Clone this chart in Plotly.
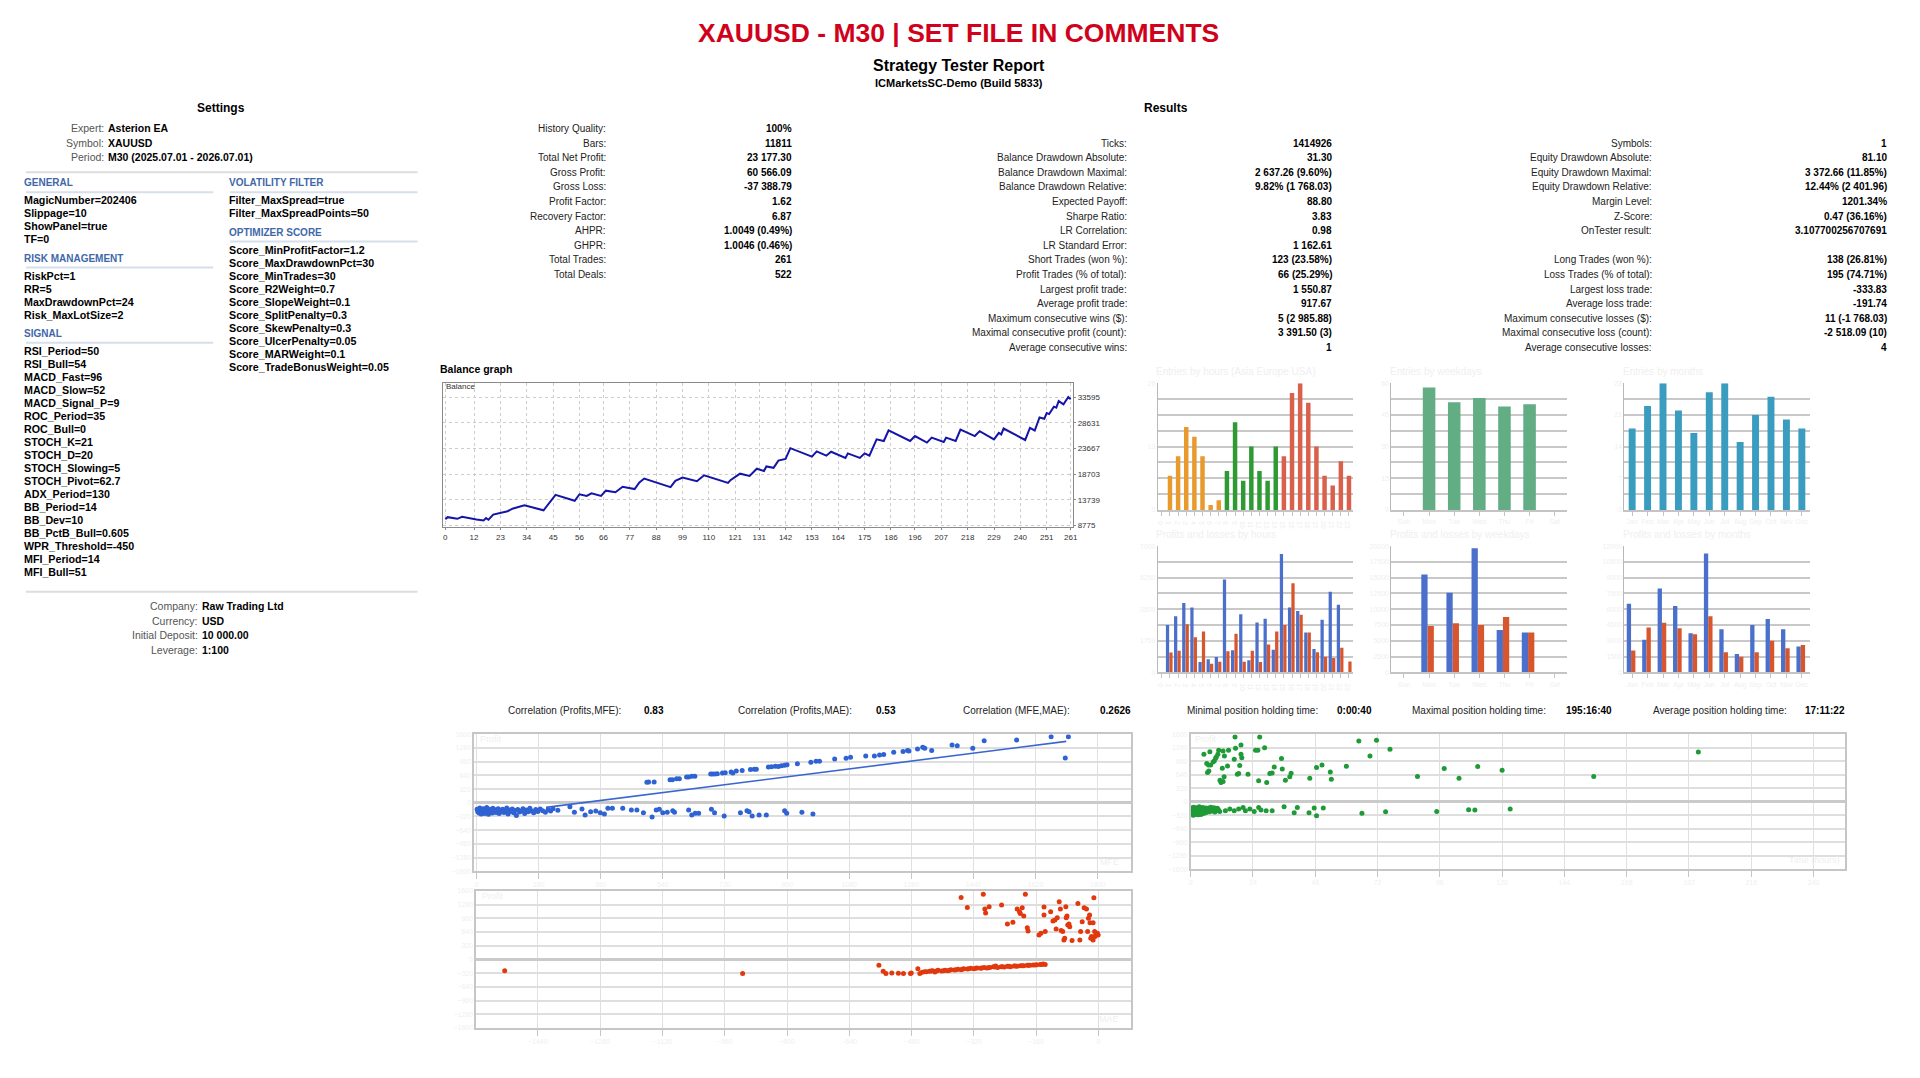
import plotly.graph_objects as go

# ============================ DATA ============================
TITLE = "XAUUSD - M30 | SET FILE IN COMMENTS"
SUBTITLE = "Strategy Tester Report"
SERVER = "ICMarketsSC-Demo (Build 5833)"

info_labels = ["Expert:", "Symbol:", "Period:"]
info_values = ["Asterion EA", "XAUUSD", "M30 (2025.07.01 - 2026.07.01)"]

general_params = ["MagicNumber=202406", "Slippage=10", "ShowPanel=true", "TF=0"]
risk_params = ["RiskPct=1", "RR=5", "MaxDrawdownPct=24", "Risk_MaxLotSize=2"]
signal_params = ["RSI_Period=50", "RSI_Bull=54", "MACD_Fast=96", "MACD_Slow=52", "MACD_Signal_P=9",
                 "ROC_Period=35", "ROC_Bull=0", "STOCH_K=21", "STOCH_D=20", "STOCH_Slowing=5",
                 "STOCH_Pivot=62.7", "ADX_Period=130", "BB_Period=14", "BB_Dev=10", "BB_PctB_Bull=0.605",
                 "WPR_Threshold=-450", "MFI_Period=14", "MFI_Bull=51"]
volatility_params = ["Filter_MaxSpread=true", "Filter_MaxSpreadPoints=50"]
optimizer_params = ["Score_MinProfitFactor=1.2", "Score_MaxDrawdownPct=30", "Score_MinTrades=30",
                    "Score_R2Weight=0.7", "Score_SlopeWeight=0.1", "Score_SplitPenalty=0.3",
                    "Score_SkewPenalty=0.3", "Score_UlcerPenalty=0.05", "Score_MARWeight=0.1",
                    "Score_TradeBonusWeight=0.05"]

account_labels = ["Company:", "Currency:", "Initial Deposit:", "Leverage:"]
account_values = ["Raw Trading Ltd", "USD", "10 000.00", "1:100"]

res1_labels = ["History Quality:", "Bars:", "Total Net Profit:", "Gross Profit:", "Gross Loss:", "Profit Factor:",
               "Recovery Factor:", "AHPR:", "GHPR:", "Total Trades:", "Total Deals:"]
res1_values = ["100%", "11811", "23 177.30", "60 566.09", "-37 388.79", "1.62", "6.87", "1.0049 (0.49%)",
               "1.0046 (0.46%)", "261", "522"]
res2_labels = ["Ticks:", "Balance Drawdown Absolute:", "Balance Drawdown Maximal:", "Balance Drawdown Relative:",
               "Expected Payoff:", "Sharpe Ratio:", "LR Correlation:", "LR Standard Error:", "Short Trades (won %):",
               "Profit Trades (% of total):", "Largest profit trade:", "Average profit trade:",
               "Maximum consecutive wins ($):", "Maximal consecutive profit (count):", "Average consecutive wins:"]
res2_values = ["1414926", "31.30", "2 637.26 (9.60%)", "9.82% (1 768.03)", "88.80", "3.83", "0.98", "1 162.61",
               "123 (23.58%)", "66 (25.29%)", "1 550.87", "917.67", "5 (2 985.88)", "3 391.50 (3)", "1"]
res3_labels = ["Symbols:", "Equity Drawdown Absolute:", "Equity Drawdown Maximal:", "Equity Drawdown Relative:",
               "Margin Level:", "Z-Score:", "OnTester result:", "", "Long Trades (won %):",
               "Loss Trades (% of total):", "Largest loss trade:", "Average loss trade:",
               "Maximum consecutive losses ($):", "Maximal consecutive loss (count):", "Average consecutive losses:"]
res3_values = ["1", "81.10", "3 372.66 (11.85%)", "12.44% (2 401.96)", "1201.34%", "0.47 (36.16%)",
               "3.107700256707691", "", "138 (26.81%)", "195 (74.71%)", "-333.83", "-191.74", "11 (-1 768.03)",
               "-2 518.09 (10)", "4"]

corr_labels = ["Correlation (Profits,MFE):", "Correlation (Profits,MAE):", "Correlation (MFE,MAE):"]
corr_values = ["0.83", "0.53", "0.2626"]
hold_labels = ["Minimal position holding time:", "Maximal position holding time:", "Average position holding time:"]
hold_values = ["0:00:40", "195:16:40", "17:11:22"]

# Balance curve (trade number, balance) read at the turning points
bal_trade = [0, 1, 5, 7, 13, 16, 17, 18, 20, 23, 26, 28, 32, 33, 41, 46, 54, 56, 59, 61, 65, 67, 71, 74, 79, 81,
             83, 94, 96, 99, 105, 108, 118, 119, 123, 127, 130, 133, 134, 137, 139, 142, 144, 153, 155, 159, 161,
             167, 168, 173, 175, 177, 180, 183, 185, 194, 196, 201, 203, 208, 209, 213, 215, 221, 223, 229, 231,
             232, 233, 242, 244, 246, 248, 250, 251, 252, 254, 255, 256, 258, 260, 261]
bal_value = [10000, 10380, 10060, 10440, 9940, 9750, 10190, 9870, 10880, 11200, 11520, 12020, 12460, 12650,
             11710, 14680, 13540, 14800, 14490, 14990, 14490, 15500, 15180, 16260, 15810, 17080, 17840, 16190,
             17390, 18030, 17330, 18470, 17010, 17520, 18780, 18340, 19730, 19290, 20170, 19920, 21310, 21630,
             23710, 22070, 23080, 22260, 23020, 21820, 22700, 21820, 22700, 22260, 25420, 25100, 27130, 25100,
             26050, 24790, 25740, 24910, 25740, 25100, 27320, 26050, 27000, 25420, 26680, 26370, 27510, 25290,
             27630, 27130, 29650, 29400, 30480, 30290, 31740, 31550, 32810, 32180, 33595, 33177]
bal_xticks = [0, 12, 23, 34, 45, 56, 66, 77, 88, 99, 110, 121, 131, 142, 153, 164, 175, 186, 196, 207, 218, 229,
              240, 251, 261]
bal_yticks = [8775, 13739, 18703, 23667, 28631, 33595]

# Entries / profits-losses distributions
hours = list(range(24))
hour_session = ["Asia"] * 8 + ["Europe"] * 7 + ["USA"] * 9
entries_by_hour = [0, 7, 11, 17, 15, 11, 1, 2, 8, 18, 6, 13, 8, 6, 13, 11, 24, 26, 22, 13, 7, 5, 10, 7]
weekdays = ["Sun", "Mon", "Tue", "Wed", "Thu", "Fri", "Sat"]
entries_by_weekday = [0, 58, 51, 53, 49, 50, 0]
months = ["Jan", "Feb", "Mar", "Apr", "May", "Jun", "Jul", "Aug", "Sep", "Oct", "Nov", "Dec"]
entries_by_month = [18, 23, 28, 22, 17, 26, 28, 15, 21, 25, 20, 18]

profits_by_hour = [0, 2625, 3110, 3840, 3590, 570, 720, 850, 5150, 1220, 3220, 665, 2770, 2975, 1250, 6560, 3600,
                   3400, 2205, 1290, 2920, 4470, 3750, 0]
losses_by_hour = [0, 1100, 1200, 2670, 1950, 2260, 480, 590, 1170, 2140, 590, 1200, 570, 1540, 2260, 2625, 4940,
                  3200, 2205, 1120, 870, 790, 1360, 600]
profits_by_weekday = [0, 15500, 12600, 19650, 6725, 6300, 0]
losses_by_weekday = [0, 7350, 7775, 7500, 8775, 6300, 0]
profits_by_month = [6525, 3090, 7980, 6300, 3720, 11310, 4095, 1740, 4500, 5070, 4095, 2460]
losses_by_month = [2085, 4260, 4725, 4185, 3630, 5325, 1920, 1485, 1920, 3000, 2295, 2610]

# Scatter: profit vs MFE
s1_win_mfe = [494, 499, 515, 561, 568, 580, 588, 609, 615, 624, 633, 679, 684, 691, 698, 713, 721, 738, 743, 753,
              770, 794, 805, 811, 846, 855, 866, 875, 884, 893, 900, 930, 969, 984, 994, 1038, 1071, 1084, 1128,
              1153, 1168, 1180, 1209, 1236, 1249, 1253, 1278, 1293, 1299, 1319, 1378, 1393, 1438, 1471, 1565,
              1665, 1715, 1706]
s1_win_profit = [477, 485, 485, 539, 539, 562, 562, 601, 601, 616, 616, 670, 670, 670, 678, 693, 701, 716, 693,
                 739, 755, 778, 785, 785, 832, 839, 855, 847, 862, 878, 886, 909, 947, 970, 970, 1024, 1040, 1063,
                 1093, 1093, 1117, 1124, 1178, 1194, 1217, 1209, 1255, 1294, 1271, 1217, 1348, 1332, 1271, 1448,
                 1463, 1540, 1540, 1047]
s1_loss_mfe = [2, 4, 6, 8, 10, 12, 14, 16, 18, 20, 22, 24, 26, 28, 30, 32, 35, 38, 40, 43, 46, 48, 51, 54, 57, 60,
               63, 66, 70, 73, 76, 80, 84, 88, 92, 96, 100, 104, 108, 112, 116, 120, 125, 130, 135, 140, 145, 150,
               155, 160, 166, 172, 178, 185, 192, 200, 208, 215, 222, 236,
               271, 284, 306, 315, 331, 346, 359, 371, 381, 394, 424, 449, 465, 484, 509, 521, 530, 540, 553, 569,
               574, 615, 624, 634, 644, 681, 690, 718, 765, 784, 790, 799, 819, 840, 893, 899, 943, 975]
s1_loss_profit = [-150, -210, -180, -240, -120, -200, -260, -170, -220, -140, -190, -250, -160, -230, -110, -200,
                  -270, -150, -215, -180, -240, -130, -200, -165, -225, -185, -140, -250, -175, -210, -150, -230,
                  -190, -120, -260, -170, -205, -145, -235, -180, -300, -160, -215, -190, -140, -250, -170, -210,
                  -130, -190, -235, -160, -205, -145, -185, -220, -160, -195, -140, -175,
                  -92, -223, -146, -285, -208, -193, -231, -262, -131, -131, -131, -169, -169, -231, -330, -169,
                  -154, -231, -223, -185, -223, -169, -285, -246, -246, -154, -231, -308, -231, -185, -208, -308,
                  -285, -285, -185, -246, -223, -262]
trend_mfe = [202, 1709]
trend_profit = [-108, 1432]

# Scatter: profit vs holding time (hours)
s2_win_time = [5.1, 7.4, 6.2, 6.9, 7.7, 6.5, 7.0, 9.1, 9.6, 9.9, 8.7, 10.8, 10.5, 12.5, 13.0, 14.6, 14.2, 12.2,
               11.3, 11.7, 12.5, 12.9, 16.8, 17.1, 17.3, 18.0, 18.5, 19.4, 19.4, 19.7, 18.9, 22.1, 25.0, 25.9,
               26.2, 26.6, 28.5, 29.3, 30.5, 31.4, 32.2, 35.0, 35.3, 36.5, 38.2, 38.7, 45.9, 48.5, 50.6, 53.8,
               54.2, 60.0, 64.8, 69.1, 71.6, 76.8, 87.4, 97.7, 103.4, 110.6, 120.0, 155.3, 195.6]
s2_win_profit = [1124, 1187, 904, 872, 872, 692, 731, 967, 1030, 1061, 943, 1218, 1124, 1203, 1085, 1218, 849,
                 794, 511, 456, 479, 590, 1006, 1533, 1265, 652, 668, 1344, 1124, 1045, 857, 652, 1218, 1218, 495,
                 1533, 1281, 456, 668, 684, 825, 1022, 778, 511, 590, 676, 558, 810, 872, 707, 534, 841, 1438,
                 1085, 1454, 1242, 597, 786, 558, 833, 747, 597, 1179]
s2_loss_time = [0.3, 0.5, 0.7, 0.9, 1.1, 1.3, 1.5, 1.7, 1.9, 2.1, 2.3, 2.5, 2.7, 2.9, 3.1, 3.3, 3.5, 3.7, 3.9, 4.1,
                4.3, 4.5, 4.7, 4.9, 5.1, 5.3, 5.5, 5.8, 6.0, 6.3, 6.6, 6.9, 7.2, 7.5, 7.8, 8.1, 8.4, 8.7, 9.0, 9.3,
                9.6, 9.9, 10.3, 10.7, 11.2, 2.0, 3.0, 1.0, 4.0, 5.0,
                13.4, 15.1, 16.8, 18.5, 20.2, 21.1, 22.8, 24.5, 26.2, 27.1, 29.1, 31.4, 36.0, 39.9, 41.1, 45.6,
                47.6, 48.5, 51.1, 66.0, 75.1, 94.8, 107.1, 109.5, 123.1]
s2_loss_profit = [-150, -220, -180, -260, -130, -200, -240, -170, -290, -140, -210, -185, -250, -160, -225, -120,
                  -195, -270, -150, -215, -175, -240, -135, -205, -165, -230, -190, -145, -255, -175, -210, -150,
                  -235, -185, -130, -220, -165, -200, -140, -245, -175, -210, -155, -190, -230, -300, -310, -320,
                  -300, -280,
                  -212, -173, -212, -173, -134, -212, -173, -228, -134, -197, -212, -212, -118, -259, -134, -259,
                  -149, -330, -149, -275, -236, -228, -189, -197, -173]

# Scatter: profit vs MAE
s3_win_mae = [-353, -337, -296, -292, -290, -281, -249, -234, -220, -209, -203, -201, -196, -192, -188, -183, -181,
              -153, -148, -140, -140, -137, -123, -117, -112, -109, -106, -101, -98, -96, -92, -89, -87, -84, -83,
              -81, -79, -76, -74, -68, -53, -48, -46, -42, -37, -31, -28, -26, -23, -22, -20, -18, -14, -14, -12,
              -10, -9, -7, -3, -1]
s3_win_profit = [1446, 1214, 1523, 1175, 1082, 1229, 1268, 827, 866, 1175, 1113, 1074, 1206, 1013, 1523, 742, 665,
                 572, 611, 1036, 1221, 649, 1113, 897, 920, 711, 974, 1345, 1175, 673, 649, 456, 495, 1229, 974,
                 1013, 804, 827, 765, 441, 1306, 456, 649, 881, 1206, 1175, 649, 959, 1036, 858, 495, 533, 456,
                 858, 1438, 649, 533, 572, 611, 572]
s3_loss_mae = [-1525, -914, -564, -553, -546, -531, -514, -501, -483, -481, -464, -459, -453, -442, -434, -426,
               -420, -412, -403, -394, -387, -379, -370, -361, -353, -346, -337, -328, -320, -312, -303, -294, -287,
               -279, -270, -264, -259, -250, -242, -234, -226, -217, -209, -201, -192, -183, -176, -168, -159, -150,
               -142, -137,
               -447, -430, -415, -398, -383, -366, -350, -333, -316, -300, -283, -266, -247, -230, -213, -196, -180,
               -163, -146]
s3_loss_profit = [-263, -330, -139, -278, -330, -317, -325, -330, -330, -317, -216, -330, -301, -286, -278, -263,
                  -294, -255, -271, -255, -263, -240, -247, -232, -240, -216, -224, -209, -216, -201, -209, -186,
                  -201, -186, -170, -155, -186, -170, -178, -162, -170, -155, -162, -147, -147, -139, -139, -131,
                  -124, -116, -108, -116,
                  -290, -270, -262, -262, -250, -240, -232, -216, -209, -201, -193, -178, -170, -162, -155, -150,
                  -139, -131, -120]

# ============================ LAYOUT HELPERS ============================
W, H, OFF = 1904, 1062, 8
FONT = "Liberation Sans, Arial, sans-serif"
FAINT = "#efefef"
PAD = 2.5      # annotation text inset compensation (px)
DY = -2.5      # vertical text correction (px)


def X(px):
    return (px - OFF) / W


def Y(py):
    return 1 - (py - OFF) / H


annotations = []
shapes = []


def text(x, y, s, size=10, color="#000000", bold=False, anchor="left"):
    if anchor == "left":
        x -= PAD
    elif anchor == "right":
        x += PAD
    annotations.append(dict(x=X(x), y=Y(y + DY), xref="paper", yref="paper",
                            text=f"<b>{s}</b>" if bold else s, showarrow=False,
                            xanchor=anchor, yanchor="middle", borderpad=0,
                            font=dict(size=size, color=color, family=FONT)))


def hline(x0, x1, y, color, width):
    shapes.append(dict(type="line", xref="paper", yref="paper", x0=X(x0), x1=X(x1), y0=Y(y), y1=Y(y),
                       line=dict(color=color, width=width)))


layout = dict(width=W, height=H, margin=dict(l=0, r=0, t=0, b=0), paper_bgcolor="white",
              plot_bgcolor="white", showlegend=False, barmode="overlay", font=dict(family=FONT))


def add_axes(i, x0, x1, y0, y1, xa, ya):
    s = "" if i == 1 else str(i)
    layout["xaxis" + s] = dict(domain=[X(x0), X(x1)], anchor="y" + s, fixedrange=True, **xa)
    layout["yaxis" + s] = dict(domain=[Y(y1), Y(y0)], anchor="x" + s, fixedrange=True, **ya)
    return "x" + s, "y" + s


# ============================ HEADER TEXT ============================
text(960, 31.5, TITLE, size=26.5, color="#d0021b", bold=True, anchor="center")
text(960, 64, SUBTITLE, size=16, bold=True, anchor="center")
text(960, 81.5, SERVER, size=11, bold=True, anchor="center")
text(220, 106.7, "Settings", size=12, bold=True, anchor="center")
text(1168, 106.7, "Results", size=12, bold=True, anchor="center")

# ============================ SETTINGS ============================
for k, (lab, val) in enumerate(zip(info_labels, info_values)):
    y = 127.7 + k * 14.6
    text(101, y, lab, size=10.5, color="#555555", anchor="right")
    text(108, y, val, size=10.5, bold=True)
hline(24, 417, 169.3, "#dddddd", 2)

HEAD_C = "#3f68aa"
UL_C = "#d6dfec"
STEP = 13.1


def param_block(x0, x1, y_head, title, items):
    text(x0, y_head, title, size=10, color=HEAD_C, bold=True)
    hline(x0, x1, y_head + 7, UL_C, 2)
    for k, s in enumerate(items):
        text(x0, y_head + 17.7 + k * STEP, s, size=10.7, bold=True)
    return y_head + 17.7 + (len(items) - 1) * STEP


y_end = param_block(24, 212, 182.5, "GENERAL", general_params)
y_end = param_block(24, 212, y_end + 18.7, "RISK MANAGEMENT", risk_params)
y_end = param_block(24, 212, y_end + 18.7, "SIGNAL", signal_params)
y_end = param_block(229, 417, 182.5, "VOLATILITY FILTER", volatility_params)
y_end = param_block(229, 417, y_end + 18.7, "OPTIMIZER SCORE", optimizer_params)

hline(24, 417, 591.7, "#dddddd", 2)
for k, (lab, val) in enumerate(zip(account_labels, account_values)):
    y = 608.3 + k * 14.8
    text(195, y, lab, size=10.5, color="#555555", anchor="right")
    text(202, y, val, size=10.5, bold=True)

# ============================ RESULTS ============================
ROW0, ROWH = 127.8, 14.7
for k, (lab, val) in enumerate(zip(res1_labels, res1_values)):
    y = ROW0 + k * ROWH
    text(605, y, lab, size=10, color="#222222", anchor="right")
    text(791, y, val, size=10, bold=True, anchor="right")
for k, (lab, val) in enumerate(zip(res2_labels, res2_values)):
    y = ROW0 + (k + 1) * ROWH
    text(1128, y, lab, size=10, color="#222222", anchor="right")
    text(1333, y, val, size=10, bold=True, anchor="right")
for k, (lab, val) in enumerate(zip(res3_labels, res3_values)):
    if not lab:
        continue
    y = ROW0 + (k + 1) * ROWH
    text(1655, y, lab, size=10, color="#222222", anchor="right")
    text(1890, y, val, size=10, bold=True, anchor="right")

# ============================ BALANCE GRAPH ============================
text(441.5, 370, "Balance graph", size=10.5, bold=True)
bx, by = add_axes(1, 443, 1075, 381, 526.5,
                  dict(range=[-0.8, 262], tickvals=bal_xticks, ticktext=[str(v) for v in bal_xticks],
                       showgrid=True, gridcolor="#cccccc", griddash="dot", gridwidth=1,
                       showline=True, mirror=True, linecolor="#8a8a8a", linewidth=1, zeroline=False,
                       ticks="outside", ticklen=2, tickcolor="#8a8a8a",
                       tickfont=dict(size=8, color="#333333", family=FONT)),
                  dict(range=[8459, 36393], side="right", tickvals=bal_yticks,
                       ticktext=[str(v) for v in bal_yticks],
                       showgrid=True, gridcolor="#cccccc", griddash="dot", gridwidth=1,
                       showline=True, mirror=True, linecolor="#8a8a8a", linewidth=1, zeroline=False,
                       ticks="outside", ticklen=2, tickcolor="#8a8a8a",
                       tickfont=dict(size=8, color="#333333", family=FONT)))
traces = [go.Scatter(x=bal_trade, y=bal_value, mode="lines", line=dict(color="#1414a8", width=2),
                     xaxis=bx, yaxis=by, hoverinfo="skip")]
text(447, 387, "Balance", size=8, color="#333333")

# ============================ BAR CHARTS ============================
SESSION_COLORS = {"Asia": "#e99a2c", "Europe": "#2f9a34", "USA": "#d9604a"}
PROFIT_C = "#4a70cc"
LOSS_C = "#d8562e"


def bar_axes(i, x0, x1, y0, y1, cats, ymax, nsteps, label_every, fmt):
    step = ymax / nsteps
    tv = [step * k for k in range(nsteps + 1)]
    tt = [fmt(v) if k % label_every == 0 else "" for k, v in enumerate(tv)]
    return add_axes(i, x0, x1, y0, y1,
                    dict(range=[-0.5, len(cats) - 0.5], tickvals=list(range(len(cats))), ticktext=cats,
                         showgrid=False, zeroline=False, showline=True, linecolor="#c4c4c4", linewidth=2,
                         ticks="outside", ticklen=4, tickcolor="#c4c4c4",
                         tickfont=dict(size=7, color=FAINT, family=FONT)),
                    dict(range=[0, ymax], tickvals=tv, ticktext=tt, showgrid=True, gridcolor="#c8c8c8",
                         gridwidth=2, zeroline=False, showline=True, linecolor="#b8b8b8", linewidth=1,
                         ticks="", tickfont=dict(size=7, color=FAINT, family=FONT)))


TOP = (381.7, 509.3)
BOT = (545.7, 672.7)
COLS = [(1160, 1356), (1394.5, 1571), (1628.4, 1814.2)]
hour_txt = [str(h) for h in hours]
fint = lambda v: f"{v:g}"

ax2 = bar_axes(2, *COLS[0], *TOP, hour_txt, 26, 8, 4, fint)
ax3 = bar_axes(3, *COLS[1], *TOP, weekdays, 60, 8, 2, fint)
ax4 = bar_axes(4, *COLS[2], *TOP, months, 28, 8, 2, fint)
ax5 = bar_axes(5, *COLS[0], *BOT, hour_txt, 7000, 8, 2, fint)
ax6 = bar_axes(6, *COLS[1], *BOT, weekdays, 20000, 8, 1, fint)
ax7 = bar_axes(7, *COLS[2], *BOT, months, 12000, 8, 1, fint)

traces.append(go.Bar(x=hours, y=entries_by_hour, width=0.55, xaxis=ax2[0], yaxis=ax2[1],
                     marker=dict(color=[SESSION_COLORS[s] for s in hour_session], line=dict(width=0))))
traces.append(go.Bar(x=list(range(7)), y=entries_by_weekday, width=0.5, xaxis=ax3[0], yaxis=ax3[1],
                     marker=dict(color="#62ad84", line=dict(width=0))))
traces.append(go.Bar(x=list(range(12)), y=entries_by_month, width=0.45, xaxis=ax4[0], yaxis=ax4[1],
                     marker=dict(color="#3a9cbf", line=dict(width=0))))

for (ax, cats, prof, loss, w, o1, o2) in [
        (ax5, hours, profits_by_hour, losses_by_hour, 0.4, -0.5, -0.08),
        (ax6, list(range(7)), profits_by_weekday, losses_by_weekday, 0.25, -0.31, -0.06),
        (ax7, list(range(12)), profits_by_month, losses_by_month, 0.28, -0.35, -0.07)]:
    traces.append(go.Bar(x=cats, y=prof, width=w, offset=o1, xaxis=ax[0], yaxis=ax[1],
                         marker=dict(color=PROFIT_C, line=dict(width=0))))
    traces.append(go.Bar(x=cats, y=loss, width=w, offset=o2, xaxis=ax[0], yaxis=ax[1],
                         marker=dict(color=LOSS_C, line=dict(width=0))))

chart_titles = ["Entries by hours (Asia Europe USA)", "Entries by weekdays", "Entries by months",
                "Profits and losses by hours", "Profits and losses by weekdays", "Profits and losses by months"]
for k, t in enumerate(chart_titles):
    x0 = COLS[k % 3][0]
    y = 372.7 if k < 3 else 536.7
    text(x0, y, t, size=10, color=FAINT)

# ============================ SCATTER PLOTS ============================
def scat_axes(i, x0, x1, y0, y1, xr, dx):
    return add_axes(i, x0, x1, y0, y1,
                    dict(range=xr, dtick=dx, tick0=0, showgrid=True, gridcolor="#e0e0e0", gridwidth=1,
                         zeroline=False, showline=True, mirror=True, linecolor="#c6c6c6", linewidth=1.5,
                         ticks="outside", ticklen=6, tickcolor="#c6c6c6",
                         tickfont=dict(size=7, color=FAINT, family=FONT)),
                    dict(range=[-1600, 1600], dtick=320, tick0=0, showgrid=True, gridcolor="#dedede",
                         gridwidth=1.5, zeroline=True, zerolinecolor="#cacaca", zerolinewidth=2.5,
                         showline=True, mirror=True, linecolor="#c6c6c6", linewidth=1.5, ticks="",
                         tickfont=dict(size=7, color=FAINT, family=FONT)))


s1 = scat_axes(8, 474, 1133, 735, 873, [-6, 1896], 180)
s2 = scat_axes(9, 1193, 1849.5, 735, 871, [0, 252], 24)
s3 = scat_axes(10, 476, 1133, 892.7, 1030.7, [-1598, 83], 160)

BLUE_PT, GREEN_PT, RED_PT = "#2f62d2", "#1e9a36", "#e2380e"
MS = 5
for ax, xs, ys, c in [(s1, s1_win_mfe + s1_loss_mfe, s1_win_profit + s1_loss_profit, BLUE_PT),
                      (s2, s2_win_time + s2_loss_time, s2_win_profit + s2_loss_profit, GREEN_PT),
                      (s3, s3_win_mae + s3_loss_mae, s3_win_profit + s3_loss_profit, RED_PT)]:
    traces.append(go.Scatter(x=xs, y=ys, mode="markers", marker=dict(color=c, size=MS, line=dict(width=0)),
                             xaxis=ax[0], yaxis=ax[1], hoverinfo="skip"))
traces.append(go.Scatter(x=trend_mfe, y=trend_profit, mode="lines", line=dict(color="#3a66d0", width=1.6),
                         xaxis=s1[0], yaxis=s1[1], hoverinfo="skip"))

text(481, 742, "Profit", size=9, color=FAINT)
text(1120, 866, "MFE", size=9, color=FAINT, anchor="right")
text(1199, 742, "Profit", size=9, color=FAINT)
text(1843, 864, "Time (hours)", size=9, color=FAINT, anchor="right")
text(483, 900, "Profit", size=9, color=FAINT)
text(1120, 1024, "MAE", size=9, color=FAINT, anchor="right")

# statistics rows above the scatter plots
CR_Y = 713.3
for lab_r, val_l, lab, val in zip([619.6, 851.6, 1070.6], [645.6, 879, 1104], corr_labels, corr_values):
    text(lab_r, CR_Y, lab, size=10, color="#222222", anchor="right")
    text(val_l, CR_Y, val, size=10, bold=True)
for lab_r, val_l, lab, val in zip([1319.6, 1548.6, 1790.5], [1341, 1571, 1811.5], hold_labels, hold_values):
    text(lab_r, CR_Y, lab, size=10, color="#222222", anchor="right")
    text(val_l, CR_Y, val, size=10, bold=True)

layout["annotations"] = annotations
layout["shapes"] = shapes
fig = go.Figure(data=traces, layout=layout)
fig.write_html("out.html")
